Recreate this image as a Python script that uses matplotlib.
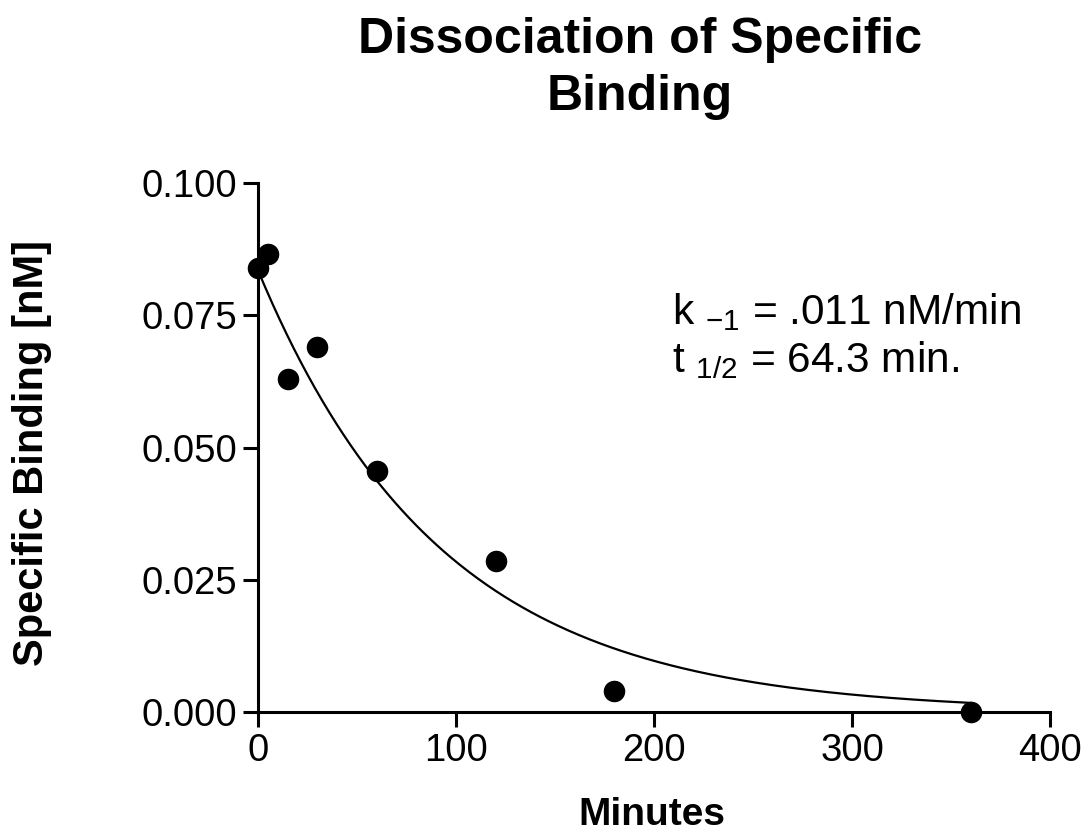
import numpy as np
import matplotlib
matplotlib.use("Agg")
import matplotlib.pyplot as plt

plt.rcParams['font.family'] = ['Liberation Sans', 'DejaVu Sans']
plt.rcParams['mathtext.fontset'] = 'custom'
plt.rcParams['mathtext.rm'] = 'Liberation Sans'
plt.rcParams['mathtext.it'] = 'Liberation Sans'

# data
minutes = [0, 5, 15, 30, 60, 120, 180, 360]
binding = [0.084, 0.0865, 0.063, 0.069, 0.0455, 0.0285, 0.004, 0.000]
x_ticks = [0, 100, 200, 300, 400]
y_ticks = [0.000, 0.025, 0.050, 0.075, 0.100]
# fit parameters (one-phase exponential decay)
fit_y0 = 0.0835
half_life = 64.3
fit_xmax = 360

W, H = 1089, 840
fig = plt.figure(figsize=(W / 100, H / 100), dpi=100)
ax = fig.add_axes([258 / W, 1 - 712 / H, (1050 - 258) / W, (712 - 183) / H])

k = np.log(2) / half_life
xf = np.linspace(0, fit_xmax, 400)
ax.plot(xf, fit_y0 * np.exp(-k * xf), color='black', lw=1.6, zorder=2)
ax.plot(minutes, binding, 'o', color='black', ms=14.5, zorder=3, clip_on=False)

ax.set_xlim(0, 400)
ax.set_ylim(0, 0.100)
ax.set_xticks(x_ticks)
ax.set_yticks(y_ticks)
ax.set_yticklabels([f"{v:.3f}" for v in y_ticks])
for s in ['top', 'right']:
    ax.spines[s].set_visible(False)
for s in ['left', 'bottom']:
    ax.spines[s].set_linewidth(2.2)
ax.tick_params(axis='both', direction='out', length=11, width=2.2, labelsize=27.5, pad=4)

fig.text(652 / W, 1 - 815 / H, 'Minutes', fontsize=28, fontweight='bold',
         ha='center', va='center')
fig.text(32 / W, 1 - 453 / H, 'Specific Binding [nM]', fontsize=30, fontweight='bold',
         ha='center', va='center', rotation=90)
fig.text(640 / W, 1 - 40 / H, 'Dissociation of Specific', ha='center', va='center',
         fontsize=36, fontweight='bold')
fig.text(640 / W, 1 - 97 / H, 'Binding', ha='center', va='center',
         fontsize=36, fontweight='bold')

ax.text(0.523, 0.733, r'k $_{\mathregular{-1}}$ = .011 nM/min', transform=ax.transAxes,
        fontsize=30.5, ha='left', va='baseline')
ax.text(0.523, 0.643, r't $_{\mathregular{1/2}}$ = 64.3 min.', transform=ax.transAxes,
        fontsize=30.5, ha='left', va='baseline')

fig.savefig('out.png', dpi=100)
